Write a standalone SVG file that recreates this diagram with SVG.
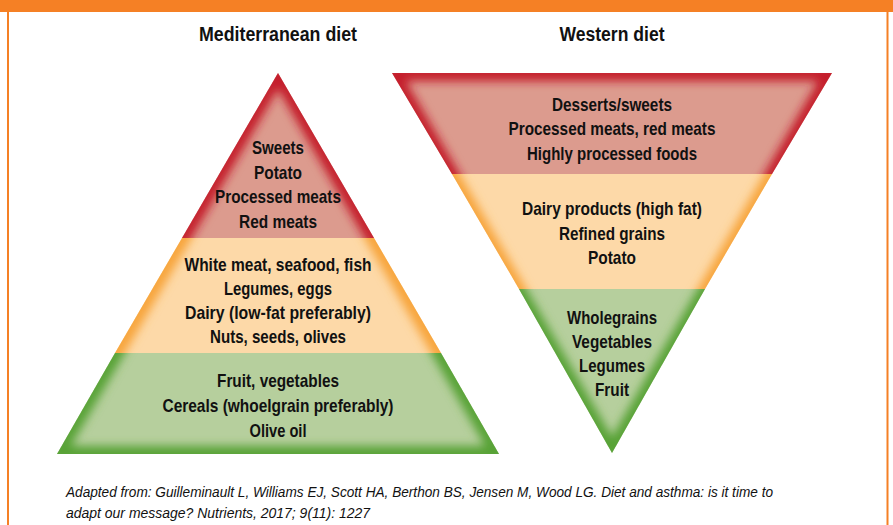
<svg xmlns="http://www.w3.org/2000/svg" width="893" height="525" viewBox="0 0 893 525">
<style>
text{font-family:"Liberation Sans",Arial,sans-serif;fill:#111;}
.t{font-size:20px;font-weight:bold;text-anchor:middle;}
.l{font-size:19px;font-weight:bold;text-anchor:middle;}
.c{font-size:15px;font-style:italic;}
.glow{fill:none;stroke-width:16;filter:url(#blur);}
</style>
<defs>
<filter id="blur" x="-20%" y="-20%" width="140%" height="140%"><feGaussianBlur stdDeviation="5"/></filter>
<clipPath id="mR"><polygon points="278,73 182,238 374,238"/></clipPath>
<clipPath id="mO"><polygon points="182,238 374,238 441,353 115,353"/></clipPath>
<clipPath id="mG"><polygon points="115,353 441,353 499,454 57,454"/></clipPath>
<clipPath id="wR"><polygon points="392,73 832,73 772,174 452,174"/></clipPath>
<clipPath id="wO"><polygon points="452,174 772,174 705,289 519,289"/></clipPath>
<clipPath id="wG"><polygon points="519,289 705,289 612,453"/></clipPath>
</defs>
<rect x="0" y="0" width="893" height="525" fill="#fff"/>
<rect x="0" y="0" width="893" height="12" fill="#f58025"/>
<line x1="8" y1="12" x2="8" y2="525" stroke="#f58025" stroke-width="2"/>
<line x1="887.5" y1="12" x2="887.5" y2="525" stroke="#f58025" stroke-width="2"/>

<g id="title-med"><text class="t" x="278" y="41" textLength="158" lengthAdjust="spacingAndGlyphs">Mediterranean diet</text></g>
<g id="title-west"><text class="t" x="612" y="41" textLength="105" lengthAdjust="spacingAndGlyphs">Western diet</text></g>

<g id="med-top">
<polygon points="278,73 182,238 374,238" fill="#dc9b8e"/>
<g clip-path="url(#mR)"><polygon class="glow" points="278,73 57,454 499,454" stroke="#c41f2a"/></g>
<text class="l" x="278" y="154" textLength="52" lengthAdjust="spacingAndGlyphs">Sweets</text>
<text class="l" x="278" y="179" textLength="48" lengthAdjust="spacingAndGlyphs">Potato</text>
<text class="l" x="278" y="203" textLength="126" lengthAdjust="spacingAndGlyphs">Processed meats</text>
<text class="l" x="278" y="228" textLength="78" lengthAdjust="spacingAndGlyphs">Red meats</text>
</g>
<g id="med-mid">
<polygon points="182,238 374,238 441,353 115,353" fill="#fdd9a8"/>
<g clip-path="url(#mO)"><polygon class="glow" points="278,73 57,454 499,454" stroke="#f7a43a"/></g>
<text class="l" x="278" y="271" textLength="187" lengthAdjust="spacingAndGlyphs">White meat, seafood, fish</text>
<text class="l" x="278" y="295" textLength="108" lengthAdjust="spacingAndGlyphs">Legumes, eggs</text>
<text class="l" x="278" y="319" textLength="186" lengthAdjust="spacingAndGlyphs">Dairy (low-fat preferably)</text>
<text class="l" x="278" y="343" textLength="136" lengthAdjust="spacingAndGlyphs">Nuts, seeds, olives</text>
</g>
<g id="med-base">
<polygon points="115,353 441,353 499,454 57,454" fill="#b6cf9d"/>
<g clip-path="url(#mG)"><polygon class="glow" points="278,73 57,454 499,454" stroke="#56a236"/></g>
<text class="l" x="278" y="387" textLength="122" lengthAdjust="spacingAndGlyphs">Fruit, vegetables</text>
<text class="l" x="278" y="412" textLength="231" lengthAdjust="spacingAndGlyphs">Cereals (whoelgrain preferably)</text>
<text class="l" x="278" y="437" textLength="57" lengthAdjust="spacingAndGlyphs">Olive oil</text>
</g>

<g id="west-top">
<polygon points="392,73 832,73 772,174 452,174" fill="#dc9b8e"/>
<g clip-path="url(#wR)"><polygon class="glow" points="392,73 832,73 612,453" stroke="#c41f2a"/></g>
<text class="l" x="612" y="111" textLength="120" lengthAdjust="spacingAndGlyphs">Desserts/sweets</text>
<text class="l" x="612" y="135" textLength="207" lengthAdjust="spacingAndGlyphs">Processed meats, red meats</text>
<text class="l" x="612" y="160" textLength="170" lengthAdjust="spacingAndGlyphs">Highly processed foods</text>
</g>
<g id="west-mid">
<polygon points="452,174 772,174 705,289 519,289" fill="#fdd9a8"/>
<g clip-path="url(#wO)"><polygon class="glow" points="392,73 832,73 612,453" stroke="#f7a43a"/></g>
<text class="l" x="612" y="215" textLength="180" lengthAdjust="spacingAndGlyphs">Dairy products (high fat)</text>
<text class="l" x="612" y="240" textLength="106" lengthAdjust="spacingAndGlyphs">Refined grains</text>
<text class="l" x="612" y="264" textLength="48" lengthAdjust="spacingAndGlyphs">Potato</text>
</g>
<g id="west-base">
<polygon points="519,289 705,289 612,453" fill="#b6cf9d"/>
<g clip-path="url(#wG)"><polygon class="glow" points="392,73 832,73 612,453" stroke="#56a236"/></g>
<text class="l" x="612" y="324" textLength="90" lengthAdjust="spacingAndGlyphs">Wholegrains</text>
<text class="l" x="612" y="348" textLength="80" lengthAdjust="spacingAndGlyphs">Vegetables</text>
<text class="l" x="612" y="372" textLength="66" lengthAdjust="spacingAndGlyphs">Legumes</text>
<text class="l" x="612" y="396" textLength="34" lengthAdjust="spacingAndGlyphs">Fruit</text>
</g>

<g id="caption">
<text class="c" x="66" y="497" textLength="707" lengthAdjust="spacingAndGlyphs">Adapted from: Guilleminault L, Williams EJ, Scott HA, Berthon BS, Jensen M, Wood LG. Diet and asthma: is it time to</text>
<text class="c" x="66" y="518" textLength="304" lengthAdjust="spacingAndGlyphs">adapt our message? Nutrients, 2017; 9(11): 1227</text>
</g>
</svg>
